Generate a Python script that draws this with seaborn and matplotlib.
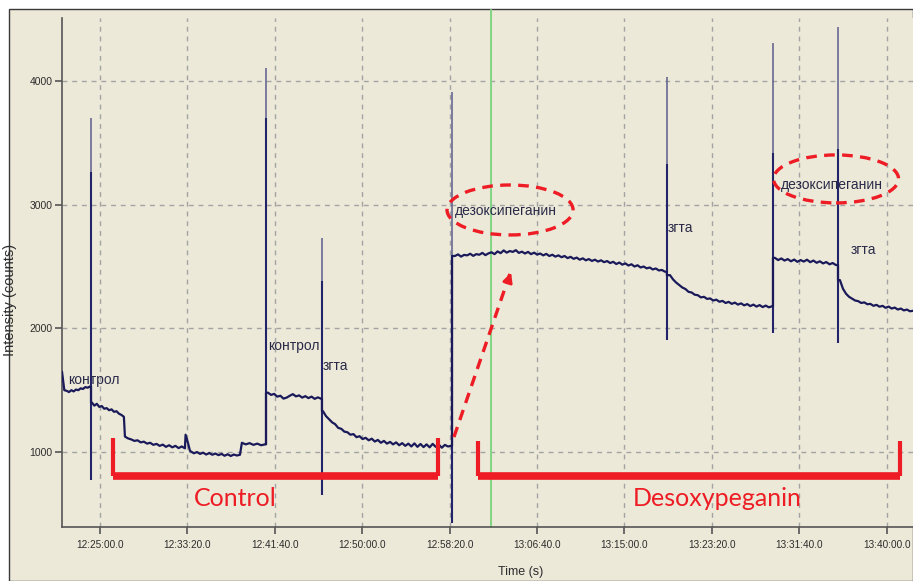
import numpy as np
import pandas as pd
import seaborn as sns
import matplotlib.pyplot as plt
from matplotlib.patches import Ellipse, Rectangle
from matplotlib.ticker import FixedLocator, FuncFormatter

# ---- data (time offsets in seconds from 12:25:00, intensity in counts) ----
T_REF = 12 * 3600 + 25 * 60

seg_a_t, seg_a_v = (-217, -57), [1650, 1500, 1495, 1485, 1500, 1490, 1505, 1500, 1515, 1510, 1525, 1520, 1530]
seg_b_t, seg_b_v = (-46, 137), [1400, 1375, 1390, 1365, 1372, 1350, 1355, 1338, 1345, 1325, 1330, 1310, 1300, 1285]
seg_c_t, seg_c_v = (143, 486), [1125, 1110, 1102, 1090, 1095, 1078, 1084, 1068, 1075, 1058, 1066, 1050, 1060,
                                1042, 1055, 1038, 1050, 1032, 1045, 1030]
seg_bump_t, seg_bump_v = (490, 515), [1140, 1080, 1010]
seg_d_t, seg_d_v = (520, 801), [1005, 990, 1000, 985, 995, 980, 992, 978, 988, 975, 985, 970, 982, 968, 980, 972, 978]
seg_e_t, seg_e_v = (812, 944), [1075, 1062, 1072, 1058, 1068, 1055, 1062]
seg_f_t, seg_f_v = (961, 1264), [1480, 1462, 1470, 1448, 1455, 1432, 1440, 1455, 1468, 1450, 1458, 1440, 1452,
                                 1436, 1448, 1430, 1442, 1432]
seg_g_t, seg_g_v = (1276, 2008), [1330, 1290, 1265, 1240, 1225, 1195, 1188, 1165, 1160, 1140, 1145, 1120, 1128,
                                  1105, 1115, 1095, 1108, 1085, 1098, 1075, 1090, 1068, 1082, 1062, 1078, 1055,
                                  1072, 1050, 1068, 1045, 1070, 1042, 1065, 1040, 1062, 1038, 1066, 1042, 1060,
                                  1035, 1058, 1045, 1050]
seg_h_t, seg_h_v = (2031, 3232), [2585, 2598, 2580, 2594, 2590, 2603, 2586, 2600, 2595, 2610, 2592, 2606, 2615,
                                  2600, 2622, 2608, 2630, 2612, 2625, 2618, 2632, 2610, 2620, 2605, 2618, 2600,
                                  2612, 2596, 2605, 2590, 2602, 2585, 2595, 2580, 2590, 2575, 2585, 2568, 2578,
                                  2562, 2572, 2555, 2566, 2550, 2560, 2545, 2555, 2540, 2550, 2535, 2544, 2528,
                                  2538, 2520, 2532, 2515, 2525, 2508, 2518, 2500, 2510, 2492, 2500, 2485, 2492,
                                  2476, 2484, 2468, 2472, 2458]
seg_i_t, seg_i_v = (3261, 3844), [2430, 2395, 2370, 2350, 2330, 2318, 2295, 2290, 2272, 2268, 2250, 2255, 2238,
                                  2242, 2225, 2232, 2215, 2222, 2205, 2214, 2198, 2208, 2192, 2202, 2186, 2196,
                                  2180, 2192, 2176, 2188, 2172, 2184, 2170, 2178]
seg_j_t, seg_j_v = (3861, 4210), [2570, 2552, 2565, 2548, 2560, 2542, 2556, 2538, 2552, 2540, 2555, 2535, 2548,
                                  2530, 2542, 2525, 2536, 2518, 2528, 2512]
seg_k_t, seg_k_v = (4233, 4651), [2390, 2320, 2280, 2255, 2240, 2225, 2220, 2205, 2210, 2195, 2198, 2182, 2190,
                                  2175, 2182, 2166, 2176, 2160, 2168, 2152, 2160, 2145, 2152, 2138, 2142]

# injection spikes
spike_t = [-51, 950, 1270, 2014, 3243, 3850, 4222]
spike_top = [3700, 4104, 2730, 3910, 4030, 4306, 4436]
spike_inner = [3260, 3700, 2380, 2590, 3330, 3420, 3450]
spike_bottom = [774, 1057, 652, 426, 1905, 1962, 1881]

# tick positions
x_ticks = [0, 500, 1000, 1500, 2000, 2500, 3000, 3500, 4000, 4500]
y_ticks = [1000, 2000, 3000, 4000]

# ---- build the trace ----
segments = [(seg_a_t, seg_a_v), (seg_b_t, seg_b_v), (seg_c_t, seg_c_v), (seg_bump_t, seg_bump_v),
            (seg_d_t, seg_d_v), (seg_e_t, seg_e_v), (seg_f_t, seg_f_v), (seg_g_t, seg_g_v),
            (seg_h_t, seg_h_v), (seg_i_t, seg_i_v), (seg_j_t, seg_j_v), (seg_k_t, seg_k_v)]
# segments that are preceded by a spike
spike_before = {1: 0, 6: 1, 7: 2, 8: 3, 9: 4, 10: 5, 11: 6}

tt, vv = [], []
for i, ((t0, t1), vals) in enumerate(segments):
    if i in spike_before and tt:
        ts = spike_t[spike_before[i]]
        tt += [ts, ts]
        vv += [vv[-1], vals[0]]
    tt += list(np.linspace(t0, t1, len(vals)))
    vv += vals
trace = pd.DataFrame({"t": np.array(tt) + T_REF, "v": vv})

# ---- styling ----
sns.set_style("ticks")
plt.rcParams["font.family"] = ["Liberation Sans", "DejaVu Sans"]
BG = "#ECE9D9"
NAVY = "#1a1a5a"
RED = "#EE1C24"
INK = "#2c2c2c"

fig = plt.figure(figsize=(9.13, 5.81), dpi=100)
fig.patch.set_facecolor("white")
panel = Rectangle((9 / 913, 0), 1 - 9 / 913, 1 - 9 / 581, transform=fig.transFigure,
                  facecolor=BG, edgecolor="#3a3a3a", lw=1.0, zorder=-10)
fig.patches.append(panel)

ax = fig.add_axes([62 / 913, 54 / 581, 1 - 62 / 913, (563 - 54) / 581])
ax.set_facecolor(BG)

ax.set_xlim(T_REF - 217, T_REF + 4651)
ax.set_ylim(394, 4509)

for s in ["top", "right"]:
    ax.spines[s].set_visible(False)
for s in ["left", "bottom"]:
    ax.spines[s].set_color("#555555")
    ax.spines[s].set_linewidth(1.2)

ax.xaxis.set_major_locator(FixedLocator([T_REF + x for x in x_ticks]))
ax.yaxis.set_major_locator(FixedLocator(y_ticks))


def fmt_time(x, pos):
    s = int(round(x))
    return f"{s // 3600}:{(s % 3600) // 60:02d}:{s % 60:02d}.0"


ax.xaxis.set_major_formatter(FuncFormatter(fmt_time))
ax.tick_params(axis="both", direction="out", length=5, width=1.2, color="#555555",
               labelcolor=INK, pad=4)
ax.tick_params(axis="x", labelsize=7.2)
ax.tick_params(axis="y", labelsize=7.5, pad=2)

ax.grid(True, color="#a3a3a3", linestyle=(0, (3.5, 3.5)), lw=1.0)
ax.set_axisbelow(True)

# green marker line, reaching up to the panel border
ax.axvline(T_REF + 2237, ymin=0, ymax=1 + 8 / 509, color="#86d486", lw=1.5, zorder=1, clip_on=False)

# spikes
st = np.array(spike_t) + T_REF
ax.vlines(st, spike_inner, spike_top, color="#5d5d8c", lw=1.1, zorder=2)
ax.vlines(st, spike_bottom, spike_inner, color="#23236a", lw=1.5, zorder=2)

# trace
sns.lineplot(data=trace, x="t", y="v", estimator=None, sort=False, color=NAVY, lw=1.6, ax=ax, zorder=3)

ax.set_xlabel("Time (s)", fontsize=9, color=INK)
ax.set_ylabel("Intensity (counts)", fontsize=10.5, color=INK)
ax.xaxis.set_label_coords(0.5 + (521 - 487.5) / 851, -(566 - 527) / 509)
ax.yaxis.set_label_coords(-(62 - 17) / 851, 0.5 - (300 - 272.5) / 509)

# event labels
lab_kw = dict(fontsize=10, color="#2a2a48", va="center", ha="left", zorder=4)
ax.text(T_REF - 183, 1582, "контрол", **lab_kw)
ax.text(T_REF + 961, 1857, "контрол", **lab_kw)
ax.text(T_REF + 1276, 1695, "згта", **lab_kw)
ax.text(T_REF + 2031, 2949, "дезоксипеганин", **lab_kw)
ax.text(T_REF + 3250, 2811, "згта", **lab_kw)
ax.text(T_REF + 3896, 3159, "дезоксипеганин", **lab_kw)
ax.text(T_REF + 4297, 2633, "згта", **lab_kw)

# dashed ellipses round the drug labels
for cx, cy, w, h in [(T_REF + 2346, 2957, 721, 404), (T_REF + 4211, 3208, 715, 388)]:
    ax.add_patch(Ellipse((cx, cy), w, h, fill=False, edgecolor=RED, lw=2.4,
                         linestyle=(0, (3.2, 2.2)), zorder=5))

# dashed arrow
ax.plot([T_REF + 2025, T_REF + 2345], [1121, 2440], color=RED, lw=2.4,
        linestyle=(0, (3.2, 2.2)), zorder=5)
ax.annotate("", xy=(T_REF + 2357, 2472), xytext=(T_REF + 2337, 2390),
            arrowprops=dict(arrowstyle="-|>", color=RED, lw=2.0, mutation_scale=14), zorder=5)

# brackets
def bracket(x0, x1, ytop, ybar):
    ax.plot([x0, x0], [ytop, ybar], color=RED, lw=3.0, solid_capstyle="butt", zorder=5)
    ax.plot([x1, x1], [ytop, ybar], color=RED, lw=3.0, solid_capstyle="butt", zorder=5)
    ax.plot([x0, x1], [ybar, ybar], color=RED, lw=5.5, solid_capstyle="butt", zorder=5)


bracket(T_REF + 74, T_REF + 1934, 1113, 806)
bracket(T_REF + 2163, T_REF + 4577, 1089, 806)

ax.text(T_REF + 772, 628, "Control", fontsize=18, color=RED, ha="center", va="center",
        family=["Lato", "DejaVu Sans"], zorder=5)
ax.text(T_REF + 3530, 628, "Desoxypeganin", fontsize=18, color=RED, ha="center", va="center",
        family=["Lato", "DejaVu Sans"], zorder=5)

fig.savefig("out.png", dpi=100, facecolor=fig.get_facecolor())
